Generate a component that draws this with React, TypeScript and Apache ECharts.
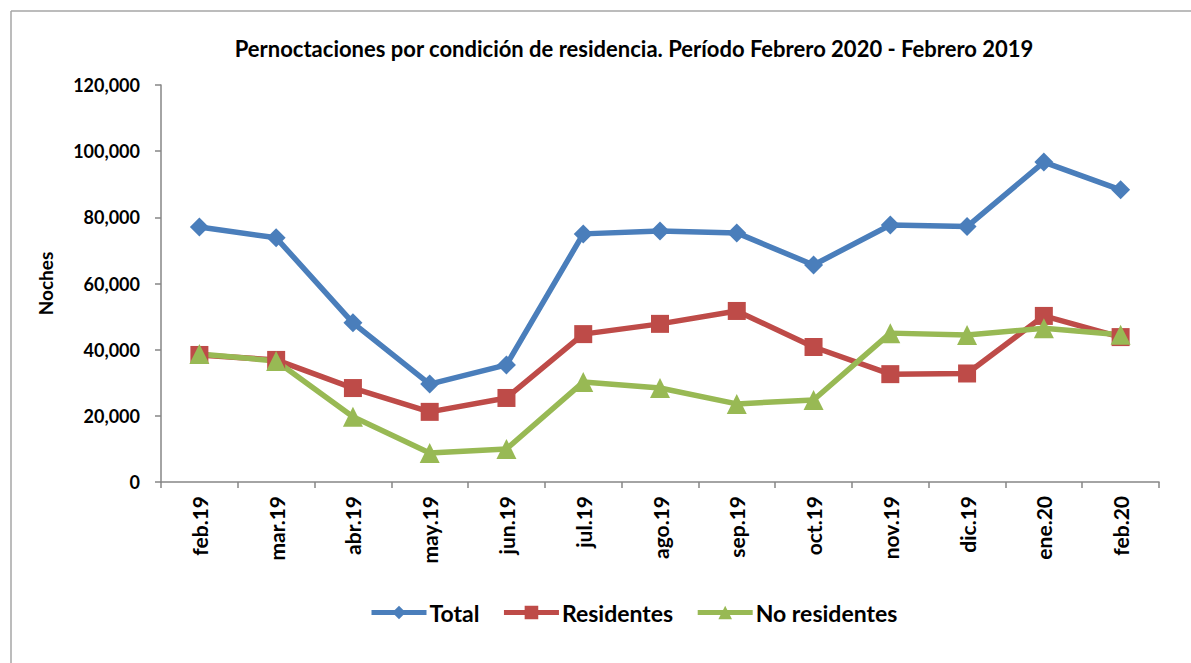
import React, { useEffect, useRef } from "react";
import * as echarts from "echarts";

const categories = ["feb.19","mar.19","abr.19","may.19","jun.19","jul.19","ago.19","sep.19","oct.19","nov.19","dic.19","ene.20","feb.20"];
const total = [77100, 73800, 48100, 29600, 35400, 75000, 75900, 75300, 65600, 77700, 77200, 96700, 88300];
const residentes = [38400, 36900, 28400, 21200, 25400, 44700, 47800, 51700, 40800, 32600, 32800, 50200, 43800];
const noResidentes = [38700, 36600, 19700, 8800, 10000, 30200, 28400, 23600, 24800, 45000, 44400, 46500, 44500];
const yTicks = [0, 20000, 40000, 60000, 80000, 100000, 120000];

const FONT = "Lato";

export default function App() {
  const ref = useRef<HTMLDivElement>(null);
  useEffect(() => {
    if (!ref.current) return;
    const chart = echarts.init(ref.current, null, { renderer: "svg" });
    const mk = (name: string, data: number[], color: string, symbol: string, size: number | number[]) => ({
      name,
      type: "line",
      data,
      color,
      symbol,
      symbolSize: size,
      lineStyle: { width: 5.5, color },
      itemStyle: { color },
    });
    chart.setOption({
      animation: false,
      backgroundColor: "#ffffff",
      textStyle: { fontFamily: FONT },
      title: {
        text: "Pernoctaciones por condición de residencia. Período Febrero 2020 - Febrero 2019",
        left: 629,
        textAlign: "center",
        top: 32,
        textStyle: { fontFamily: FONT, fontWeight: "bold", fontSize: 22, color: "#000" },
      },
      grid: { left: 161, right: 32, top: 85, bottom: 181 },
      legend: {
        left: 364,
        top: 596,
        itemWidth: 55,
        itemHeight: 17,
        itemGap: 22,
        lineStyle: { width: 5 },
        textStyle: { fontFamily: FONT, fontWeight: "bold", fontSize: 23, color: "#000", padding: [0, 0, 0, -2] },
        data: ["Total", "Residentes", "No residentes"],
      },
      xAxis: {
        type: "category",
        data: categories,
        boundaryGap: true,
        axisLine: { lineStyle: { color: "#868686", width: 1.5 } },
        axisTick: { show: true, length: 6, interval: 0, lineStyle: { color: "#868686", width: 1.5 } },
        axisLabel: { rotate: 90, interval: 0, margin: 14, fontFamily: FONT, fontWeight: "bold", fontSize: 21, color: "#000" },
      },
      yAxis: {
        type: "value",
        min: yTicks[0],
        max: yTicks[yTicks.length - 1],
        interval: 20000,
        name: "Noches",
        nameLocation: "middle",
        nameGap: 106,
        nameRotate: 90,
        nameTextStyle: { fontFamily: FONT, fontWeight: "bold", fontSize: 19, color: "#000" },
        axisLine: { show: true, lineStyle: { color: "#868686", width: 1.5 } },
        axisTick: { show: true, length: 6, lineStyle: { color: "#868686", width: 1.5 } },
        splitLine: { show: false },
        axisLabel: {
          margin: 21,
          fontFamily: FONT,
          fontWeight: "bold",
          fontSize: 18,
          color: "#000",
          formatter: (v: number) => v.toLocaleString("en-US"),
        },
      },
      graphic: [
        { type: "line", shape: { x1: 11, y1: 11, x2: 1191, y2: 11 }, style: { stroke: "#a6a6a6", lineWidth: 1.5 } },
        { type: "line", shape: { x1: 11, y1: 11, x2: 11, y2: 663 }, style: { stroke: "#a6a6a6", lineWidth: 1.5 } },
      ],
      series: [
        mk("Total", total, "#4A7EBB", "diamond", 19),
        mk("Residentes", residentes, "#BE4B48", "rect", 18),
        mk("No residentes", noResidentes, "#98B954", "triangle", 20),
      ],
    });
    return () => chart.dispose();
  }, []);
  return <div ref={ref} style={{ position: "fixed", left: 0, top: 0, width: 1191, height: 663 }} />;
}
